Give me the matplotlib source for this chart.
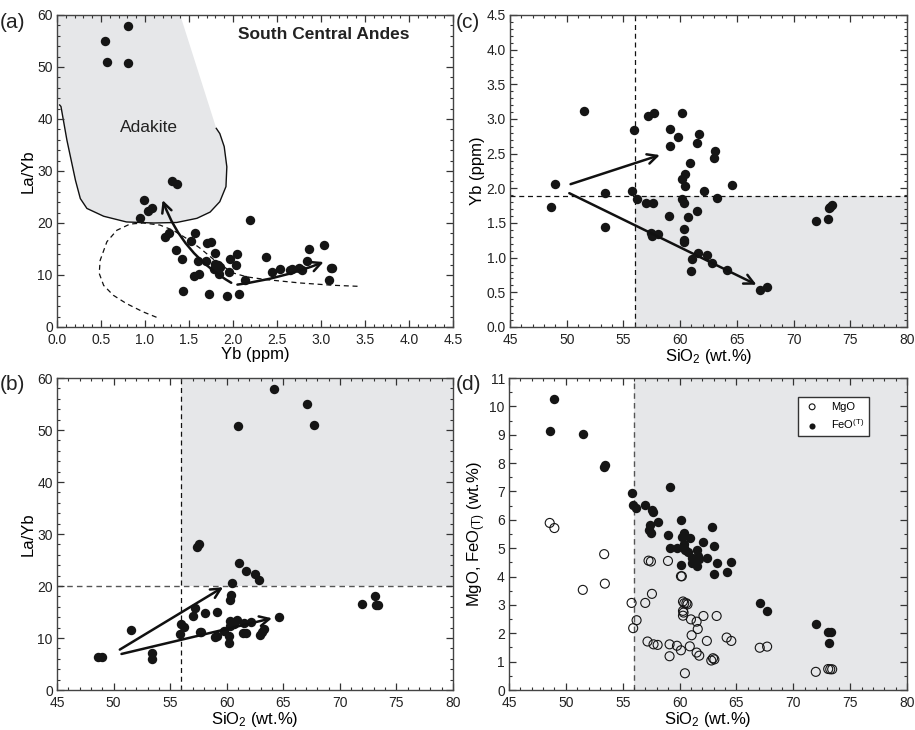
import matplotlib
matplotlib.use("Agg")
import matplotlib.pyplot as plt
from matplotlib.ticker import MultipleLocator
from matplotlib.patches import Polygon, FancyArrowPatch, Rectangle
import numpy as np

plt.rcParams['font.family'] = ['Liberation Sans', 'DejaVu Sans']
plt.rcParams['mathtext.fontset'] = 'custom'
plt.rcParams['mathtext.rm'] = 'Liberation Sans'
plt.rcParams['mathtext.it'] = 'Liberation Sans:italic'

# ---------------- Data ----------------
# (a) Yb (ppm) vs La/Yb
a_yb = [0.54, 0.81, 0.57, 0.81, 1.31, 1.36, 0.99, 1.03, 1.08, 0.94, 2.19, 1.23, 1.27,
        1.57, 1.52, 1.71, 1.75, 1.35, 1.80, 1.42, 1.60, 1.69, 1.80, 1.83, 1.85, 1.97,
        2.05, 2.03, 1.96, 1.84, 1.56, 1.61, 1.78, 1.43, 1.73, 1.93, 2.07, 2.14, 2.37,
        2.44, 2.53, 2.65, 2.67, 2.75, 2.78, 2.86, 2.84, 3.03, 3.11, 3.09, 3.12]
a_layb = [55.0, 57.8, 50.9, 50.7, 28.1, 27.5, 24.4, 22.3, 22.8, 21.05, 20.6, 17.3, 18.1,
          18.0, 16.6, 16.2, 16.4, 14.9, 14.2, 13.1, 12.6, 12.7, 12.2, 12.0, 11.6, 13.0,
          14.1, 12.0, 10.6, 10.1, 9.9, 10.1, 11.2, 7.0, 6.4, 6.0, 6.4, 9.1, 13.5,
          10.6, 11.2, 10.9, 11.1, 11.4, 10.9, 15.0, 12.6, 15.7, 11.4, 9.1, 11.4]

# Adakite field outline (Yb, La/Yb)
adakite_x = [0.0, 1.40, 1.81, 1.85, 1.90, 1.93, 1.92, 1.85, 1.74, 1.59, 1.36, 1.10,
             0.79, 0.53, 0.34, 0.265, 0.21, 0.113, 0.045, 0.03, 0.0]
adakite_y = [60.0, 60.0, 38.2, 37.2, 34.7, 30.8, 27.0, 24.1, 22.1, 20.9, 20.1, 20.0,
             20.2, 21.3, 22.8, 24.7, 28.2, 35.9, 42.4, 42.7, 44.9]
# Normal arc field (dashed)
arc_x = [3.415, 3.14, 2.76, 2.38, 2.16, 2.00, 1.815, 1.63, 1.475, 1.32, 1.17, 0.98,
         0.83, 0.68, 0.567, 0.49, 0.48, 0.53, 0.64, 0.79, 0.98, 1.17]
arc_y = [7.83, 8.02, 8.47, 9.11, 9.63, 10.4, 12.5, 15.1, 17.0, 18.6, 19.6, 20.0,
         19.8, 18.6, 16.4, 12.8, 10.3, 8.0, 6.1, 4.5, 2.9, 1.6]

# (c) SiO2 vs Yb
c_si = [48.58, 48.96, 51.49, 53.37, 53.37, 55.78, 55.92, 56.22, 57.18, 57.71, 56.98,
        57.57, 57.39, 57.48, 58.07, 59.0, 59.12, 59.12, 59.8, 60.12, 60.12, 60.2, 60.35,
        60.35, 60.3, 60.35, 60.41, 60.47, 60.9, 60.7, 61.06, 61.0, 61.5, 61.7, 61.5,
        61.6, 62.1, 62.4, 62.85, 63.06, 63.0, 63.26, 64.14, 64.55, 67.05, 67.7, 71.98,
        73.07, 73.1, 73.25, 73.36]
c_yb = [1.73, 2.06, 3.11, 1.93, 1.44, 1.96, 2.84, 1.85, 3.04, 3.08, 1.79,
        1.79, 1.36, 1.31, 1.34, 1.60, 2.85, 2.61, 2.74, 3.08, 2.13, 1.84, 1.79,
        1.42, 1.26, 1.23, 2.04, 2.20, 2.36, 1.58, 0.98, 0.81, 2.66, 2.78, 1.68,
        1.07, 1.96, 1.04, 0.93, 2.54, 2.44, 1.86, 0.82, 2.05, 0.54, 0.57, 1.53,
        1.56, 1.71, 1.73, 1.76]

# (b) SiO2 vs La/Yb
b_si = [48.58, 49.02, 51.52, 53.37, 53.43, 55.86, 55.92, 56.2, 56.99, 57.18, 57.39,
        57.54, 57.6, 57.7, 58.07, 58.95, 59.15, 59.15, 59.8, 60.18, 60.18, 60.33, 60.33,
        60.33, 60.4, 60.5, 60.6, 60.9, 61.0, 61.06, 61.44, 61.5, 61.73, 61.68, 62.15,
        62.47, 62.85, 62.97, 63.26, 63.1, 64.14, 64.58, 67.08, 67.72, 72.0, 73.07,
        73.16, 73.4]
b_layb = [6.4, 6.4, 11.55, 7.2, 6.0, 10.8, 12.6, 12.1, 14.25, 15.7, 27.5,
          28.1, 11.2, 11.1, 14.9, 10.1, 10.4, 15.0, 11.4, 9.1, 10.3, 13.3, 12.4,
          17.3, 18.2, 20.5, 12.6, 13.5, 50.8, 24.4, 11.0, 12.8, 11.0, 22.8, 13.0,
          22.3, 21.1, 10.6, 11.7, 11.2, 57.8, 14.1, 55.0, 51.0, 16.6, 18.0,
          16.4, 16.4]

# (d) SiO2 vs FeO(T) and MgO
feo_si = [48.99, 48.58, 51.49, 53.37, 53.43, 55.78, 59.12, 55.89, 56.2, 56.98, 57.57,
          57.68, 58.07, 57.27, 57.39, 57.48, 58.98, 59.12, 59.8, 60.12, 60.2, 60.35,
          60.41, 60.35, 60.47, 60.7, 60.12, 60.9, 61.06, 61.06, 61.5, 61.6, 61.73, 61.5,
          62.1, 62.4, 62.85, 63.0, 63.06, 63.26, 64.14, 64.55, 67.05, 67.7, 71.98,
          73.07, 73.36, 73.1]
feo = [10.27, 9.13, 9.01, 7.85, 7.94, 6.94, 7.14, 6.51, 6.41, 6.53, 6.35,
       6.27, 5.91, 5.65, 5.80, 5.53, 5.45, 5.02, 5.0, 5.99, 5.41, 5.52,
       5.14, 5.0, 4.94, 4.88, 4.41, 5.35, 4.67, 4.47, 4.94, 4.71, 4.62, 4.38,
       5.21, 4.65, 5.73, 5.09, 4.09, 4.47, 4.15, 4.53, 3.05, 2.79, 2.33,
       2.04, 2.04, 1.64]
mgo_si = [48.58, 48.99, 51.49, 53.37, 53.43, 55.78, 55.92, 56.22, 56.98, 57.27, 57.48,
          57.57, 57.18, 57.71, 58.07, 58.98, 59.12, 59.12, 59.77, 60.12, 60.12, 60.2,
          60.3, 60.41, 60.6, 60.7, 60.3, 60.35, 60.3, 60.47, 60.9, 61.0, 61.06, 61.5,
          61.5, 61.6, 61.73, 62.1, 62.4, 62.79, 62.94, 63.06, 63.26, 64.14, 64.55,
          67.05, 67.7, 71.98, 73.07, 73.25, 73.42]
mgo = [5.89, 5.71, 3.53, 4.79, 3.75, 3.07, 2.18, 2.46, 3.07, 4.56, 4.53,
       3.39, 1.71, 1.61, 1.59, 4.55, 1.61, 1.19, 1.56, 1.40, 4.01, 4.01,
       3.12, 3.06, 3.06, 3.02, 2.79, 2.73, 2.62, 0.59, 1.54, 2.49, 1.93, 2.41,
       1.32, 2.15, 1.21, 2.61, 1.73, 1.04, 1.12, 1.08, 2.61, 1.85, 1.73,
       1.49, 1.53, 0.64, 0.74, 0.73, 0.73]

# Trend arrows (start, end)
a_arrows = [((1.98, 8.5), (1.20, 24.4), -0.18), ((2.05, 8.15), (3.03, 12.5), 0.06)]
c_arrows = [((50.34, 2.06), (58.21, 2.48)), ((50.23, 1.93), (66.73, 0.61))]
b_arrows = [((50.55, 7.77), (59.68, 19.77)), ((50.70, 6.93), (64.0, 13.8))]

SILICA_CUT = 56
YB_CUT = 1.89
LAYB_CUT = 20

# ---------------- Figure ----------------
GRAY = '#e6e7e9'
DOT = '#151515'
W, H = 915, 730
fig = plt.figure(figsize=(W / 100, H / 100), dpi=100)

def ax_at(l, t, r, b):
    return fig.add_axes([l / W, 1 - b / H, (r - l) / W, (b - t) / H])

axA = ax_at(57, 15, 453, 327)
axC = ax_at(510, 15, 907, 327)
axB = ax_at(57, 378, 453, 690)
axD = ax_at(509, 378, 907, 690)

def style(ax, xlim, ylim, xmaj, xmin, ymaj, ymin):
    ax.set_xlim(*xlim)
    ax.set_ylim(*ylim)
    ax.xaxis.set_major_locator(MultipleLocator(xmaj))
    ax.xaxis.set_minor_locator(MultipleLocator(xmin))
    ax.yaxis.set_major_locator(MultipleLocator(ymaj))
    ax.yaxis.set_minor_locator(MultipleLocator(ymin))
    ax.tick_params(which='both', direction='in', top=True, right=True,
                   color='#333333', labelsize=10, labelcolor='#222222')
    ax.tick_params(axis='x', pad=4)
    ax.tick_params(axis='y', pad=3)
    ax.tick_params(which='major', length=5, width=0.9)
    ax.tick_params(which='minor', length=2.5, width=0.8)
    for s in ax.spines.values():
        s.set_color('#444444')
        s.set_linewidth(1.0)

def arrow(ax, p0, p1, rad=0.0):
    ar = FancyArrowPatch(p0, p1, connectionstyle=f'arc3,rad={rad}',
                         arrowstyle='->,head_length=7,head_width=3.5',
                         color='#111111', lw=1.8, shrinkA=0, shrinkB=0, zorder=4)
    ax.add_patch(ar)

DOT_S = 46

# Panel (a)
style(axA, (0, 4.5), (0, 60), 0.5, 0.1, 10, 2)
axA.add_patch(Polygon(np.column_stack([adakite_x, adakite_y]), closed=True,
                      facecolor=GRAY, edgecolor='none', zorder=0))
axA.plot(adakite_x[2:-1], adakite_y[2:-1], color='#111111', lw=1.0, zorder=1)
axA.plot(arc_x, arc_y, color='#111111', lw=0.9, ls=(0, (4, 3)), zorder=1)
axA.scatter(a_yb, a_layb, s=DOT_S, color=DOT, zorder=3, linewidths=0)
for p0, p1, rad in a_arrows:
    arrow(axA, p0, p1, rad)
axA.text(3.03, 56.2, 'South Central Andes', fontsize=12.5, fontweight='bold',
         ha='center', va='center', color='#222222')
axA.text(1.04, 38.4, 'Adakite', fontsize=12.5, ha='center', va='center', color='#222222')
axA.set_xticks(np.arange(0, 4.51, 0.5))
axA.set_xticklabels([f'{v:.1f}' for v in np.arange(0, 4.51, 0.5)])
axA.set_xlabel('Yb (ppm)', fontsize=12, labelpad=0)
axA.set_ylabel('La/Yb', fontsize=12, labelpad=1)

# Panel (c)
style(axC, (45, 80), (0, 4.5), 5, 1, 0.5, 0.1)
axC.add_patch(Rectangle((SILICA_CUT, 0), 80 - SILICA_CUT, YB_CUT, facecolor=GRAY,
                        edgecolor='none', zorder=0))
axC.axvline(SILICA_CUT, color='#111111', lw=0.9, ls=(0, (4, 3)), zorder=1)
axC.axhline(YB_CUT, color='#111111', lw=0.9, ls=(0, (4, 3)), zorder=1)
axC.scatter(c_si, c_yb, s=DOT_S, color=DOT, zorder=3, linewidths=0)
for p0, p1 in c_arrows:
    arrow(axC, p0, p1)
axC.set_yticks(np.arange(0, 4.51, 0.5))
axC.set_yticklabels([f'{v:.1f}' for v in np.arange(0, 4.51, 0.5)])
axC.set_xlabel('SiO$_2$ (wt.%)', fontsize=12, labelpad=0)
axC.set_ylabel('Yb (ppm)', fontsize=12, labelpad=1)

# Panel (b)
style(axB, (45, 80), (0, 60), 5, 1, 10, 2)
axB.add_patch(Rectangle((SILICA_CUT, LAYB_CUT), 80 - SILICA_CUT, 60 - LAYB_CUT,
                        facecolor=GRAY, edgecolor='none', zorder=0))
axB.axvline(SILICA_CUT, color='#111111', lw=0.9, ls=(0, (4, 3)), zorder=1)
axB.axhline(LAYB_CUT, color='#555555', lw=1.0, ls=(0, (4, 3)), zorder=1)
axB.scatter(b_si, b_layb, s=DOT_S, color=DOT, zorder=3, linewidths=0)
for p0, p1 in b_arrows:
    arrow(axB, p0, p1)
axB.set_xlabel('SiO$_2$ (wt.%)', fontsize=12, labelpad=0)
axB.set_ylabel('La/Yb', fontsize=12, labelpad=1)

# Panel (d)
style(axD, (45, 80), (0, 11), 5, 1, 1, 0.5)
axD.add_patch(Rectangle((SILICA_CUT, 0), 80 - SILICA_CUT, 11, facecolor=GRAY,
                        edgecolor='none', zorder=0))
axD.axvline(SILICA_CUT, color='#555555', lw=1.0, ls=(0, (4, 3)), zorder=1)
axD.scatter(mgo_si, mgo, s=42, facecolors='none', edgecolors=DOT, linewidths=0.8,
            zorder=3, label='MgO')
axD.scatter(feo_si, feo, s=DOT_S, color=DOT, zorder=3, linewidths=0, label='FeO$^{\\rm (T)}$')
leg = axD.legend(loc='upper right', bbox_to_anchor=(0.905, 0.94), fontsize=8,
                 frameon=True, fancybox=False, edgecolor='#333333', framealpha=1,
                 handletextpad=0.9, borderpad=0.45, labelspacing=0.45, markerscale=0.65,
                 handlelength=1.6, borderaxespad=0)
leg.get_frame().set_linewidth(1.0)
axD.set_xlabel('SiO$_2$ (wt.%)', fontsize=12, labelpad=0)
axD.set_ylabel('MgO, FeO$_{\\rm (T)}$ (wt.%)', fontsize=12, labelpad=1)

# Panel labels
for txt, x, y in [('(a)', 0, 22), ('(c)', 456, 22), ('(b)', 0, 385), ('(d)', 456, 385)]:
    fig.text(x / W, 1 - y / H, txt, fontsize=15, ha='left', va='center', color='#222222')

fig.savefig('out.png', dpi=100)
